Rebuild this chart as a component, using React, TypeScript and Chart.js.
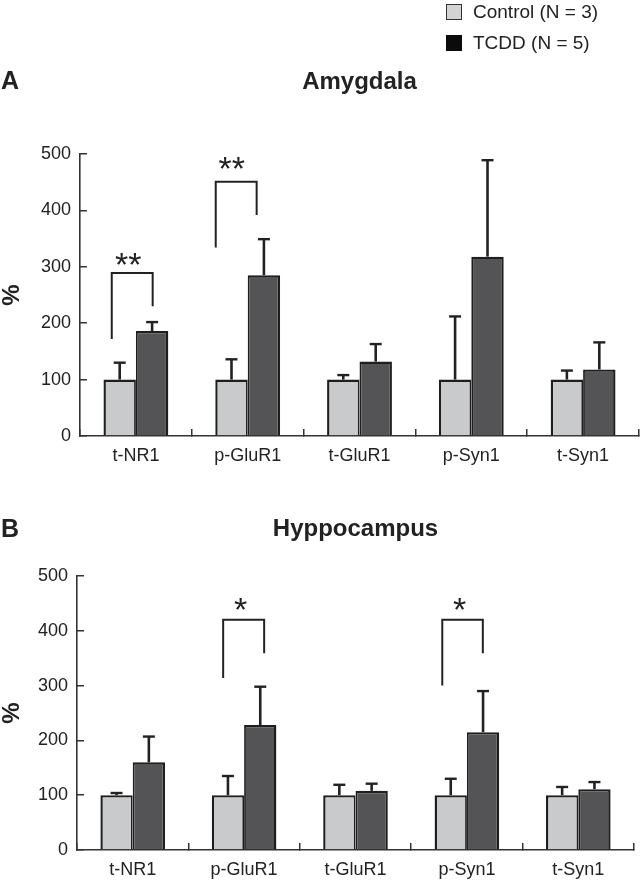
import React, { useEffect, useRef } from 'react';
import { Chart, registerables } from 'chart.js';

Chart.register(...registerables);

const FONT = "'Liberation Sans', Arial, Helvetica, sans-serif";

const categories = ['t-NR1', 'p-GluR1', 't-GluR1', 'p-Syn1', 't-Syn1'];
const yTicks = [0, 100, 200, 300, 400, 500];
const legendLabels = ['Control (N = 3)', 'TCDD (N = 5)'];

// Amygdala (panel A)
const amygControl = [100, 100, 100, 100, 100];
const amygControlErr = [30, 36, 8, 112, 16];
const amygTcdd = [186, 285, 132, 318, 118];
const amygTcddErr = [16, 64, 31, 171, 48];
// significance brackets: category index, leg offsets (fraction of category), values
const amygBrackets = [
  { cat: 0, left: -0.216, right: 0.15, top: 289, leftEnd: 172, rightEnd: 230, star: 318, starX: -0.068, label: '**' },
  { cat: 1, left: -0.286, right: 0.08, top: 451, leftEnd: 334, rightEnd: 392, star: 488, starX: -0.143, label: '**' },
];

// Hyppocampus (panel B)
const hippControl = [100, 100, 100, 100, 100];
const hippControlErr = [4, 35, 19, 30, 15];
const hippTcdd = [160, 228, 108, 215, 111];
const hippTcddErr = [47, 70, 13, 75, 13];
const hippBrackets = [
  { cat: 1, left: -0.188, right: 0.18, top: 420, leftEnd: 314, rightEnd: 359, star: 453, starX: -0.032, label: '*' },
  { cat: 3, left: -0.221, right: 0.143, top: 420, leftEnd: 300, rightEnd: 359, star: 453, starX: -0.065, label: '*' },
];

type Bracket = typeof amygBrackets[number];

function makeAnnotPlugin(errors: number[][], brackets: Bracket[]) {
  return {
    id: 'annot',
    afterDatasetsDraw(chart: any) {
      const { ctx } = chart;
      const xs = chart.scales.x;
      const ys = chart.scales.y;
      ctx.save();
      ctx.strokeStyle = '#222';
      ctx.fillStyle = '#222';
      ctx.lineCap = 'butt';
      chart.data.datasets.forEach((ds: any, di: number) => {
        const meta = chart.getDatasetMeta(di);
        meta.data.forEach((bar: any, i: number) => {
          const v = ds.data[i] as number;
          const e = errors[di][i];
          const x0 = bar.x;
          const yTop = ys.getPixelForValue(v);
          const yE = ys.getPixelForValue(v + e);
          ctx.lineWidth = 2.6;
          ctx.beginPath();
          ctx.moveTo(x0, yTop);
          ctx.lineTo(x0, yE);
          ctx.stroke();
          ctx.lineWidth = 2.4;
          ctx.beginPath();
          ctx.moveTo(x0 - 6, yE);
          ctx.lineTo(x0 + 6, yE);
          ctx.stroke();
        });
      });
      const catW = (xs.right - xs.left) / chart.data.labels.length;
      brackets.forEach((b) => {
        const cx = xs.getPixelForValue(b.cat);
        const xl = cx + b.left * catW;
        const xr = cx + b.right * catW;
        const yt = ys.getPixelForValue(b.top);
        const yl = ys.getPixelForValue(b.leftEnd);
        const yr = ys.getPixelForValue(b.rightEnd);
        ctx.lineWidth = 2;
        ctx.lineJoin = 'miter';
        ctx.beginPath();
        ctx.moveTo(xl, yl);
        ctx.lineTo(xl, yt);
        ctx.lineTo(xr, yt);
        ctx.lineTo(xr, yr);
        ctx.stroke();
        const fs = 34;
        ctx.font = `${fs}px ${FONT}`;
        ctx.textAlign = 'center';
        ctx.textBaseline = 'alphabetic';
        ctx.fillText(b.label, cx + b.starX * catW, ys.getPixelForValue(b.star) + 0.58 * fs);
      });
      ctx.restore();
    },
  };
}

interface PanelCfg {
  control: number[];
  tcdd: number[];
  controlErr: number[];
  tcddErr: number[];
  brackets: Bracket[];
  padTop: number;
  padRight: number;
  xHeight: number;
  yWidth: number;
}

function makeChart(canvas: HTMLCanvasElement, cfg: PanelCfg) {
  const tickFont = { size: 18, family: FONT };
  const gridCommon = {
    display: true,
    drawOnChartArea: false,
    drawTicks: true,
    tickLength: -7,
    color: '#333',
    lineWidth: 1.5,
  };
  return new Chart(canvas, {
    type: 'bar',
    data: {
      labels: categories,
      datasets: [
        {
          label: legendLabels[0],
          data: cfg.control,
          backgroundColor: '#c9cacc',
          borderColor: '#1e1e1e',
          borderWidth: { top: 2.4, left: 2.4, right: 1.8, bottom: 0 },
          borderSkipped: 'start',
          categoryPercentage: 0.58,
          barPercentage: 1,
        },
        {
          label: legendLabels[1],
          data: cfg.tcdd,
          backgroundColor: '#545456',
          borderColor: '#1e1e1e',
          borderWidth: { top: 2.4, left: 1.8, right: 2.4, bottom: 0 },
          borderSkipped: 'start',
          categoryPercentage: 0.58,
          barPercentage: 1,
        },
      ],
    },
    options: {
      responsive: false,
      animation: false,
      devicePixelRatio: 1,
      layout: { padding: { top: cfg.padTop, right: cfg.padRight, left: 0, bottom: 0 } },
      plugins: {
        legend: { display: false },
        tooltip: { enabled: false },
        title: { display: false },
      },
      scales: {
        x: {
          type: 'category',
          grid: { ...gridCommon, offset: true },
          border: { display: true, color: '#333', width: 1.6 },
          ticks: { font: tickFont, color: '#222', padding: 16, maxRotation: 0, minRotation: 0, autoSkip: false },
          afterFit: (s: any) => {
            s.height = cfg.xHeight;
          },
        },
        y: {
          type: 'linear',
          min: yTicks[0],
          max: yTicks[yTicks.length - 1],
          ticks: { stepSize: yTicks[1] - yTicks[0], font: tickFont, color: '#222', padding: 16 },
          grid: { ...gridCommon },
          border: { display: true, color: '#333', width: 1.6 },
          title: {
            display: true,
            text: '%',
            color: '#222',
            font: { size: 24, weight: 'bold', family: FONT, lineHeight: 1 },
            padding: 0,
          },
          afterFit: (s: any) => {
            s.width = cfg.yWidth;
          },
        },
      },
    } as any,
    plugins: [makeAnnotPlugin([cfg.controlErr, cfg.tcddErr], cfg.brackets)],
  });
}

const textBase: React.CSSProperties = {
  position: 'absolute',
  fontFamily: FONT,
  color: '#222',
  whiteSpace: 'nowrap',
  margin: 0,
};

export default function App() {
  const refA = useRef<HTMLCanvasElement>(null);
  const refB = useRef<HTMLCanvasElement>(null);

  useEffect(() => {
    const a = makeChart(refA.current!, {
      control: amygControl,
      tcdd: amygTcdd,
      controlErr: amygControlErr,
      tcddErr: amygTcddErr,
      brackets: amygBrackets,
      padTop: 154,
      padRight: 1,
      xHeight: 34,
      yWidth: 80,
    });
    const b = makeChart(refB.current!, {
      control: hippControl,
      tcdd: hippTcdd,
      controlErr: hippControlErr,
      tcddErr: hippTcddErr,
      brackets: hippBrackets,
      padTop: 106,
      padRight: 6,
      xHeight: 31,
      yWidth: 77,
    });
    return () => {
      a.destroy();
      b.destroy();
    };
  }, []);

  return (
    <div style={{ position: 'absolute', left: 0, top: 0, width: 640, height: 881, background: '#fff', overflow: 'hidden' }}>
      <canvas ref={refA} width={640} height={470} style={{ position: 'absolute', left: 0, top: 0, width: 640, height: 470 }} />
      <canvas ref={refB} width={640} height={411} style={{ position: 'absolute', left: 0, top: 470, width: 640, height: 411 }} />

      {/* legend */}
      <div style={{ position: 'absolute', left: 446, top: 3.5, width: 16, height: 16, boxSizing: 'border-box', border: '1.5px solid #333', background: '#d3d3d3' }} />
      <div style={{ ...textBase, left: 473, top: 2, fontSize: 19, lineHeight: '19px' }}>{legendLabels[0]}</div>
      <div style={{ position: 'absolute', left: 446, top: 34.5, width: 16, height: 16, background: '#0b0b0b' }} />
      <div style={{ ...textBase, left: 473, top: 33, fontSize: 19, lineHeight: '19px' }}>{legendLabels[1]}</div>

      {/* panel A */}
      <div style={{ ...textBase, left: 1, top: 67.8, fontSize: 25, lineHeight: '25px', fontWeight: 'bold' }}>A</div>
      <div style={{ ...textBase, left: 80, width: 559, top: 68.7, fontSize: 24, lineHeight: '24px', fontWeight: 'bold', textAlign: 'center' }}>Amygdala</div>

      {/* panel B */}
      <div style={{ ...textBase, left: 1, top: 515.5, fontSize: 25, lineHeight: '25px', fontWeight: 'bold' }}>B</div>
      <div style={{ ...textBase, left: 77, width: 557, top: 516.4, fontSize: 24, lineHeight: '24px', fontWeight: 'bold', textAlign: 'center' }}>Hyppocampus</div>
    </div>
  );
}
